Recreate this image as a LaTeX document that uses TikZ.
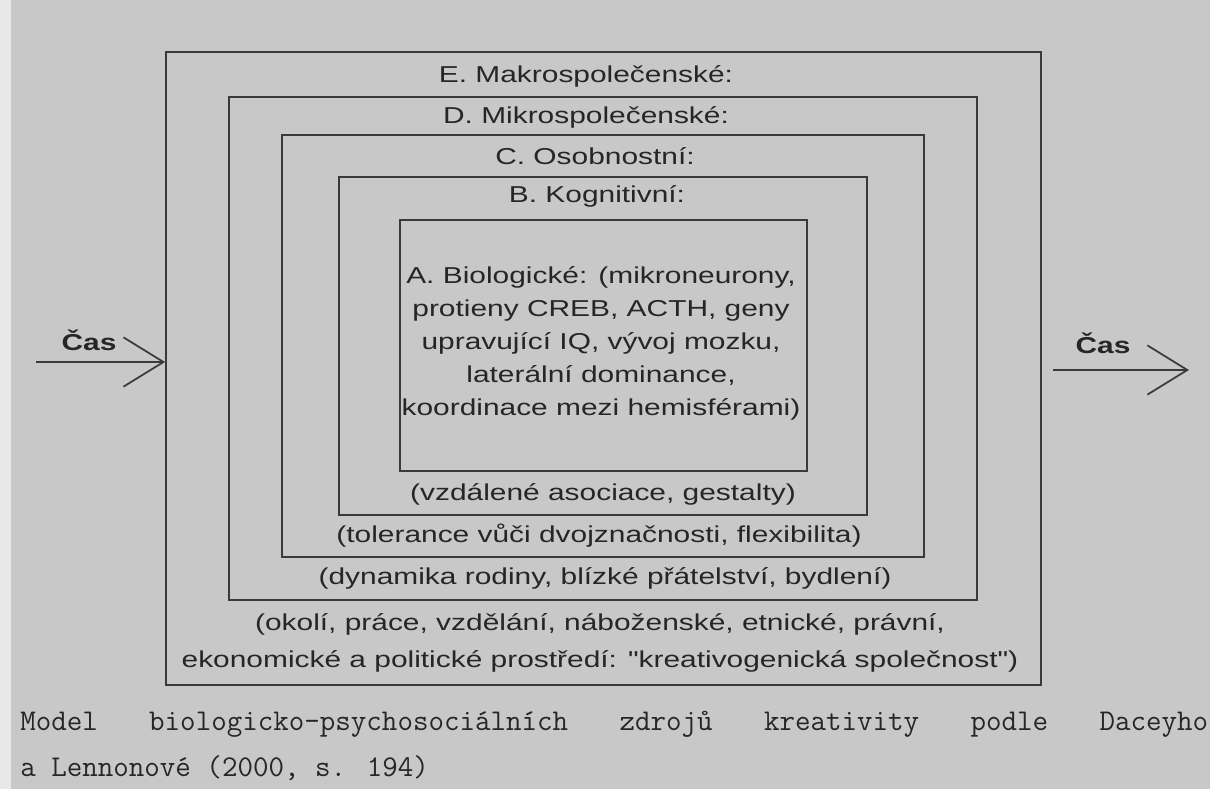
\documentclass[tikz,border=0pt]{standalone}
\usepackage{fontspec}
\setmainfont{Liberation Sans}[FakeStretch=1.3, Ligatures=TeXOff]
\usetikzlibrary{arrows.meta,fit}
\definecolor{bg}{RGB}{200,200,200}
\definecolor{strip}{RGB}{232,232,232}
\definecolor{ink}{RGB}{58,58,58}
\definecolor{txt}{RGB}{38,38,38}
\tikzset{
  layer/.style={draw=ink, line width=1.3pt, inner sep=0pt},
  lab/.style={inner sep=0pt, text=txt, align=center, font=\fontsize{17.25}{24.75}\selectfont},
  labwide/.style={inner sep=0pt, text=txt, align=center, font=\fontsize{17.25}{27.4}\selectfont},
  castext/.style={inner sep=0pt, text=txt, font=\fontsize{17.25}{20}\selectfont\bfseries},
  arr/.style={draw=ink, line width=1.3pt, -{Straight Barb[length=30pt,width=37pt]}},
  captext/.style={inner sep=0pt, anchor=west, text=txt, font=\ttfamily\fontsize{22.6}{26}\selectfont},
}
\begin{document}
\begin{tikzpicture}[x=0.75pt,y=-0.75pt]
% background (scanned page)
\fill[bg] (0,0) rectangle (1210,789);
\fill[strip] (0,0) rectangle (11,789);

% nested layers
\node[layer, fit={(166,52) (1041,685)}] (E) {};
\node[layer, fit={(229,97) (977,600)}] (D) {};
\node[layer, fit={(282,135) (924,557)}] (C) {};
\node[layer, fit={(339,177) (867,515)}] (B) {};
\node[layer, fit={(400,220) (807,471)}] (A) {};

% layer titles
\node[lab] (Et) at (586,76) {E. Makrospolečenské:};
\node[lab] (Dt) at (586,117) {D. Mikrospolečenské:};
\node[lab] (Ct) at (595,156) {C. Osobnostní:};
\node[lab] (Bt) at (597,196) {B. Kognitivní:};

% innermost content
\node[lab] (At) at (601,343) {A. Biologické: (mikroneurony,\\
protieny CREB, ACTH, geny\\
upravující IQ, vývoj mozku,\\
laterální dominance,\\
koordinace mezi hemisférami)};

% layer contents below each inner box
\node[lab] (Bb) at (603,494) {(vzdálené asociace, gestalty)};
\node[lab] (Cb) at (599,536) {(tolerance vůči dvojznačnosti, flexibilita)};
\node[lab] (Db) at (605,578) {(dynamika rodiny, blízké přátelství, bydlení)};
\node[labwide] (Eb) at (600,643) {(okolí, práce, vzdělání, náboženské, etnické, právní,\\
ekonomické a politické prostředí: "kreativogenická společnost")};

% time arrows
\node[castext] (casL) at (89,340) {Čas};
\coordinate (inL) at (36,362);
\draw[arr] (inL) -- (inL -| E.west);

\node[castext] (casR) at (1103,343) {Čas};
\coordinate (outS) at (1053,370);
\coordinate (outE) at (1189,370);
\draw[arr] (outS) -- (outE);

% caption
\node[captext] (cap1) at (20,724) {\hbox to 891pt{Model\hfill biologicko-psychosociálních\hfill zdrojů\hfill kreativity\hfill podle\hfill Daceyho}};
\node[captext] (cap2) at (20,768) {a Lennonové (2000, s. 194)};
\end{tikzpicture}
\end{document}
